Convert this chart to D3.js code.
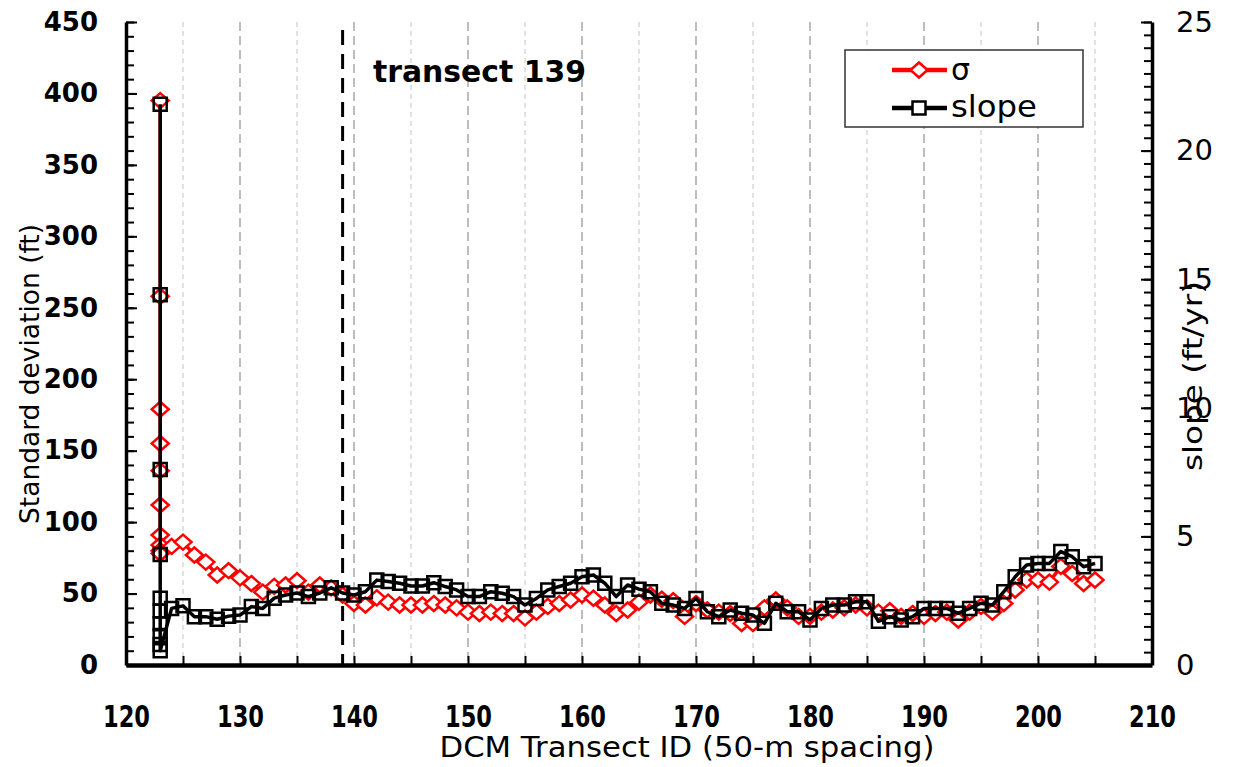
<!DOCTYPE html>
<html>
<head>
<meta charset="utf-8">
<script src="https://cdn.jsdelivr.net/npm/d3@7"></script>
<style>
  html, body { margin: 0; padding: 0; background: #fff; }
  svg { display: block; }
  text { font-family: "DejaVu Sans", "Liberation Sans", sans-serif; fill: #000; }
</style>
</head>
<body>
<svg id="chart" width="1246" height="767"></svg>
<script>
// Transect IDs (several readings share ID 123)
const transectId = [
  123, 123, 123, 123, 123, 123, 123, 123, 123, 123,
  124, 125, 126, 127, 128, 129, 130, 131, 132, 133,
  134, 135, 136, 137, 138, 139, 140, 141, 142, 143,
  144, 145, 146, 147, 148, 149, 150, 151, 152, 153,
  154, 155, 156, 157, 158, 159, 160, 161, 162, 163,
  164, 165, 166, 167, 168, 169, 170, 171, 172, 173,
  174, 175, 176, 177, 178, 179, 180, 181, 182, 183,
  184, 185, 186, 187, 188, 189, 190, 191, 192, 193,
  194, 195, 196, 197, 198, 199, 200, 201, 202, 203,
  204, 205
];

// Standard deviation sigma (ft), left axis
const sigma = [
  395, 258, 179, 155, 136, 112, 91, 84, 80, 78,
  83, 86, 77, 72, 63, 66, 61, 57, 51, 55,
  56, 59, 51, 56, 54, 49, 43, 42, 47, 44,
  42, 42, 42, 43, 42, 40, 37, 36, 37, 36,
  36, 33, 37, 41, 43, 45.5, 49, 46.7, 42, 36,
  38.5, 44, 49, 46, 45, 34, 43, 38.5, 37, 36,
  29, 29, 40, 45.5, 40, 34, 34, 37, 38.5, 40,
  42, 40, 37, 38, 34, 36, 34, 36, 37, 31.5,
  37, 41, 37, 43, 52.5, 59.5, 59.5, 58, 69, 64,
  57, 59.5
];

// Slope (ft/yr), right axis
const slope = [
  21.8, 14.4, 7.6, 4.3, 2.6, 2.1, 1.6, 1.15, 0.8, 0.55,
  2.2, 2.3, 1.88, 1.88, 1.78, 1.9, 1.94, 2.27, 2.2, 2.6,
  2.72, 2.8, 2.66, 2.8, 3.0, 2.8, 2.72, 2.85, 3.3, 3.25,
  3.18, 3.07, 3.07, 3.2, 3.05, 2.92, 2.66, 2.66, 2.85, 2.79,
  2.66, 2.33, 2.59, 2.92, 3.05, 3.18, 3.43, 3.5, 3.18, 2.66,
  3.11, 2.95, 2.85, 2.4, 2.33, 2.2, 2.59, 2.07, 1.88, 2.14,
  2.01, 1.94, 1.62, 2.4, 2.07, 2.07, 1.75, 2.2, 2.33, 2.33,
  2.46, 2.46, 1.7, 1.88, 1.75, 1.88, 2.2, 2.2, 2.2, 2.01,
  2.2, 2.4, 2.33, 2.85, 3.43, 3.89, 3.95, 3.95, 4.41, 4.21,
  3.82, 3.95
];

const xTickLabels = [120, 130, 140, 150, 160, 170, 180, 190, 200, 210];
const leftTickLabels = [0, 50, 100, 150, 200, 250, 300, 350, 400, 450];
const rightTickLabels = [0, 5, 10, 15, 20, 25];
const markedTransect = 139;
const seriesNames = ["\u03c3", "slope"];

const svg = d3.select("#chart");
const plot = { left: 126, right: 1152, top: 22, bottom: 665 };

const x = d3.scaleLinear().domain([120, 210]).range([plot.left, plot.right]);
const yL = d3.scaleLinear().domain([0, 450]).range([plot.bottom, plot.top]);
const yR = d3.scaleLinear().domain([0, 25]).range([plot.bottom, plot.top]);

// Vertical grid: light dashes at the fives, heavier dashes at the tens
const grid = svg.append("g");
grid.selectAll("line.minor")
  .data(d3.range(125, 210, 10))
  .join("line")
  .attr("x1", d => x(d)).attr("x2", d => x(d))
  .attr("y1", plot.top).attr("y2", plot.bottom)
  .attr("stroke", "#c4c4c4").attr("stroke-width", 1)
  .attr("stroke-dasharray", "5,4");
grid.selectAll("line.major")
  .data(d3.range(130, 210, 10))
  .join("line")
  .attr("x1", d => x(d)).attr("x2", d => x(d))
  .attr("y1", plot.top).attr("y2", plot.bottom)
  .attr("stroke", "#bdbdbd").attr("stroke-width", 2)
  .attr("stroke-dasharray", "9,5");

// Marker line for transect 139
svg.append("line")
  .attr("x1", x(markedTransect)).attr("x2", x(markedTransect))
  .attr("y1", plot.top + 8).attr("y2", plot.bottom)
  .attr("stroke", "#000").attr("stroke-width", 3)
  .attr("stroke-dasharray", "15,9");

svg.append("text")
  .attr("x", 373).attr("y", 82)
  .attr("font-size", 30).attr("font-weight", "bold")
  .attr("textLength", 213).attr("lengthAdjust", "spacingAndGlyphs")
  .text("transect " + markedTransect);

const diamond = "M0,-7.5L8.5,0L0,7.5L-8.5,0Z";
const square = "M-6.5,-6.5H6.5V6.5H-6.5Z";

const sigmaPts = transectId.map((t, i) => [t, sigma[i]]);
const slopePts = transectId.map((t, i) => [t, slope[i]]);

// sigma series
svg.append("path")
  .datum(sigmaPts)
  .attr("fill", "none").attr("stroke", "#ff0000").attr("stroke-width", 3.5)
  .attr("stroke-linejoin", "round")
  .attr("d", d3.line().x(d => x(d[0])).y(d => yL(d[1])));
svg.append("g").selectAll("path")
  .data(sigmaPts)
  .join("path")
  .attr("transform", d => `translate(${x(d[0])},${yL(d[1])})`)
  .attr("d", diamond)
  .attr("fill", "#fff").attr("stroke", "#ff0000").attr("stroke-width", 2.5);

// slope series
svg.append("path")
  .datum(slopePts)
  .attr("fill", "none").attr("stroke", "#000").attr("stroke-width", 3.5)
  .attr("stroke-linejoin", "round")
  .attr("d", d3.line().x(d => x(d[0])).y(d => yR(d[1])));
svg.append("g").selectAll("path")
  .data(slopePts)
  .join("path")
  .attr("transform", d => `translate(${x(d[0])},${yR(d[1])})`)
  .attr("d", square)
  .attr("fill", "none").attr("stroke", "#000").attr("stroke-width", 2.5);

// Axes: inward ticks, thick axis lines
function styleAxis(g) {
  g.select(".domain").attr("stroke", "#000").attr("stroke-width", 3.5);
  g.selectAll(".tick line").attr("stroke", "#000").attr("stroke-width", 2);
}

const bottomMinor = svg.append("g")
  .attr("transform", `translate(0,${plot.bottom})`)
  .call(d3.axisBottom(x).tickValues(d3.range(120, 211, 5)).tickSize(-9).tickSizeOuter(0).tickFormat(""))
  .call(styleAxis);
bottomMinor.select(".domain").attr("stroke-width", 4.5);

const bottomLabels = svg.append("g")
  .attr("transform", `translate(0,${plot.bottom})`)
  .call(d3.axisBottom(x).tickValues(xTickLabels).tickSize(0).tickPadding(0).tickFormat(d3.format("d")));
bottomLabels.select(".domain").remove();
bottomLabels.selectAll("text")
  .attr("y", 62).attr("dy", 0)
  .attr("font-size", 30).attr("font-weight", "bold")
  .attr("font-family", "DejaVu Sans")
  .attr("textLength", 47).attr("lengthAdjust", "spacingAndGlyphs");

const leftMinor = svg.append("g")
  .attr("transform", `translate(${plot.left},0)`)
  .call(d3.axisLeft(yL).tickValues(d3.range(0, 451, 10)).tickSize(-8).tickSizeOuter(0).tickFormat(""))
  .call(styleAxis);

const leftLabels = svg.append("g")
  .attr("transform", `translate(${plot.left},0)`)
  .call(d3.axisLeft(yL).tickValues(leftTickLabels).tickSize(-11).tickPadding(28).tickFormat(d3.format("d")))
  .call(styleAxis);
leftLabels.select(".domain").remove();
leftLabels.selectAll("text")
  .attr("font-size", 26).attr("font-weight", "bold")
  .attr("font-family", "DejaVu Sans");

const rightMinor = svg.append("g")
  .attr("transform", `translate(${plot.right},0)`)
  .call(d3.axisRight(yR).tickValues(d3.range(0, 25.01, 0.5)).tickSize(-8).tickSizeOuter(0).tickFormat(""))
  .call(styleAxis);

const rightLabels = svg.append("g")
  .attr("transform", `translate(${plot.right},0)`)
  .call(d3.axisRight(yR).tickValues(rightTickLabels).tickSize(-11).tickPadding(24).tickFormat(d3.format("d")))
  .call(styleAxis);
rightLabels.select(".domain").remove();
rightLabels.selectAll("text")
  .attr("font-size", 29)
  .attr("font-family", "DejaVu Sans");

// Axis titles
svg.append("text")
  .attr("x", 687).attr("y", 757)
  .attr("text-anchor", "middle")
  .attr("font-size", 28)
  .attr("textLength", 495).attr("lengthAdjust", "spacingAndGlyphs")
  .text("DCM Transect ID (50-m spacing)");

svg.append("text")
  .attr("transform", "translate(39,374) rotate(-90)")
  .attr("text-anchor", "middle")
  .attr("font-size", 26)
  .attr("textLength", 300).attr("lengthAdjust", "spacingAndGlyphs")
  .text("Standard deviation (ft)");

svg.append("text")
  .attr("transform", "translate(1202,376) rotate(-90)")
  .attr("text-anchor", "middle")
  .attr("font-size", 26)
  .attr("textLength", 190).attr("lengthAdjust", "spacingAndGlyphs")
  .text("slope (ft/yr)");

// Legend
const legend = svg.append("g");
legend.append("rect")
  .attr("x", 845).attr("y", 50).attr("width", 238).attr("height", 77)
  .attr("fill", "#fff").attr("stroke", "#333").attr("stroke-width", 1.5);

const legendRows = [
  { name: seriesNames[0], y: 70, color: "#ff0000", shape: diamond },
  { name: seriesNames[1], y: 108, color: "#000", shape: square }
];
legendRows.forEach(r => {
  legend.append("line")
    .attr("x1", 892).attr("x2", 947).attr("y1", r.y).attr("y2", r.y)
    .attr("stroke", r.color).attr("stroke-width", 4.5);
  legend.append("path")
    .attr("transform", `translate(919,${r.y})`)
    .attr("d", r.shape)
    .attr("fill", "#fff").attr("stroke", r.color).attr("stroke-width", 2.5);
});
legend.append("text")
  .attr("x", 951).attr("y", 80)
  .attr("font-size", 30)
  .text(seriesNames[0]);
legend.append("text")
  .attr("x", 951).attr("y", 117)
  .attr("font-size", 30)
  .attr("textLength", 86).attr("lengthAdjust", "spacingAndGlyphs")
  .text(seriesNames[1]);
</script>
</body>
</html>
